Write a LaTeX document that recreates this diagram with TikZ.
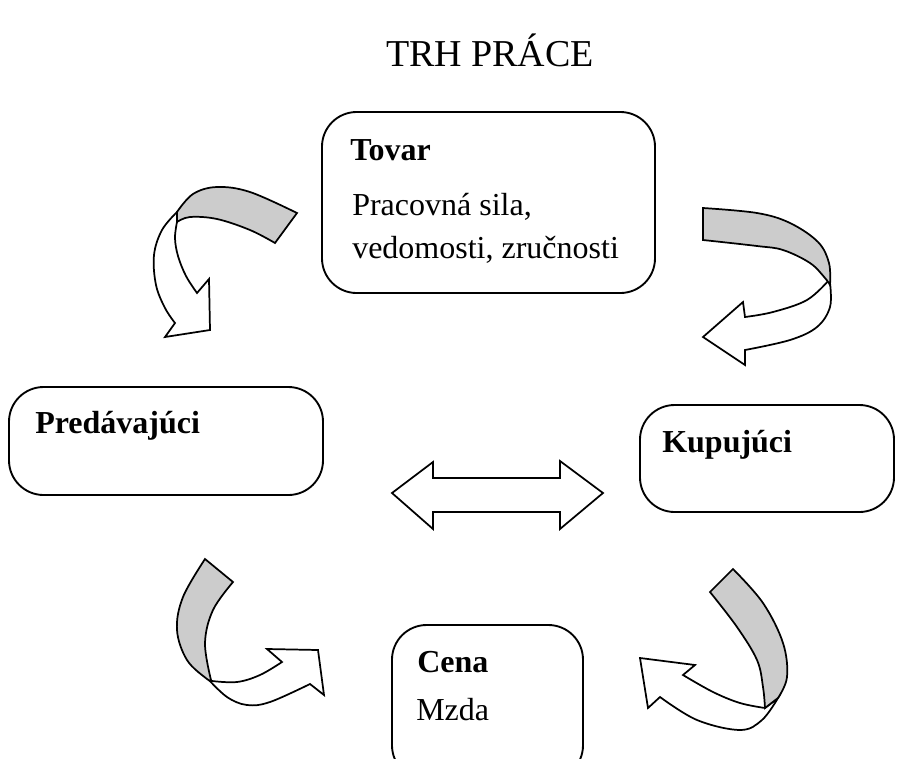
\documentclass[tikz,border=0pt]{standalone}
\usepackage{fontspec}
\setmainfont{Liberation Serif}
\begin{document}
\begin{tikzpicture}[x=0.75pt,y=-0.75pt,
  box/.style={draw, line width=1.4pt, rounded corners=26pt, inner sep=0pt},
  lbl/.style={anchor=base west, inner sep=0pt, font=\fontsize{24}{28}\selectfont},
  blbl/.style={lbl, font=\fontsize{24}{28}\selectfont\bfseries},
  shp/.style={draw, line width=1.3pt, fill=white},
  band/.style={draw, line width=1.3pt, fill=gray!40},
  sm/.style={smooth, tension=0.6}]
\clip (0,0) rectangle (897,758);
\useasboundingbox (0,0) rectangle (897,758);

% title
\node[anchor=base, inner sep=0pt, font=\fontsize{28.5}{32}\selectfont] (title) at (490,66) {TRH PRÁCE};

% boxes
\node[box, minimum width=249.75pt, minimum height=135.75pt] (tovar) at (488.5,202.5) {};
\node[box, minimum width=235.5pt, minimum height=81pt] (pred) at (166,441) {};
\node[box, minimum width=190.5pt, minimum height=80.25pt] (kup) at (767,458.5) {};
\node[box, minimum width=143.25pt, minimum height=116.25pt] (cena) at (487.5,702.5) {};

% texts
\node[blbl] (t1) at (350,160) {Tovar};
\node[lbl] (t2) at (352,215) {Pracovná sila,};
\node[lbl] (t3) at (352,258) {vedomosti, zručnosti};
\node[blbl] (p1) at (35,433) {Predávajúci};
\node[blbl] (k1) at (662,452) {Kupujúci};
\node[blbl] (c1) at (417,672) {Cena};
\node[lbl] (c2) at (416,720) {Mzda};

% double arrow
\draw[shp] (392,493) -- (433,462) -- (433,478) -- (560,478) -- (560,461) -- (603,493)
  -- (560,529) -- (560,512) -- (433,512) -- (433,529) -- cycle;

% arrow 1 (top left)
\draw[shp] (177,212) -- plot[sm] coordinates {(177,212) (162,230) (154,255) (156,285) (165,308) (175,323)}
  -- (165,337) -- (210,330) -- (209,279) -- (197,293)
  -- plot[sm] coordinates {(197,293) (186,276) (178,256) (175,238) (177,222)} -- cycle;
\draw[band] (177,212) -- plot[sm] coordinates {(177,212) (193,194) (217,187) (250,192) (297,213)}
  -- (275,243) -- plot[sm] coordinates {(275,243) (250,230) (217,219) (190,217) (177,222)} -- cycle;

% arrow 2 (top right)
\draw[shp] (829,280) -- plot[sm] coordinates {(829,280) (807,300) (773,312) (745,317)}
  -- (743,302) -- (703,337) -- (745,365) -- (745,350)
  -- plot[sm] coordinates {(745,350) (790,340) (817,327) (830,307) (830,283)} -- cycle;
\draw[band] (703,208) -- plot[sm] coordinates {(703,208) (757,213) (790,223) (818,242) (829,263) (830,285)}
  -- plot[sm] coordinates {(830,285) (825,278) (810,263) (783,250) (757,246) (703,240)} -- cycle;

% arrow 3 (bottom left)
\draw[shp] (208,679) -- plot[sm] coordinates {(208,679) (227,697) (247,705) (270,702) (310,684)}
  -- (324,695) -- (318,650) -- (267,649) -- (282,662)
  -- plot[sm] coordinates {(282,662) (260,675) (237,682) (212,681)} -- cycle;
\draw[band] (205,559) -- (233,582)
  -- plot[sm] coordinates {(233,582) (213,610) (205,643) (211,680)}
  -- plot[sm] coordinates {(211,680) (207,679) (187,660) (177,630) (183,597) (205,559)} -- cycle;

% arrow 4 (bottom right)
\draw[shp] (765,708) -- plot[sm] coordinates {(765,708) (740,703) (713,692) (683,675)}
  -- (695,665) -- (640,658) -- (648,708) -- (660,697)
  -- plot[sm] coordinates {(660,697) (697,720) (740,730) (762,720) (778,698)} -- cycle;
\draw[band] (710,592) -- (733,569)
  -- plot[sm] coordinates {(733,569) (763,603) (783,643) (787,677) (778,698)}
  -- (765,708)
  -- plot[sm] coordinates {(765,708) (763,687) (757,660) (737,627) (710,592)} -- cycle;
\end{tikzpicture}
\end{document}
